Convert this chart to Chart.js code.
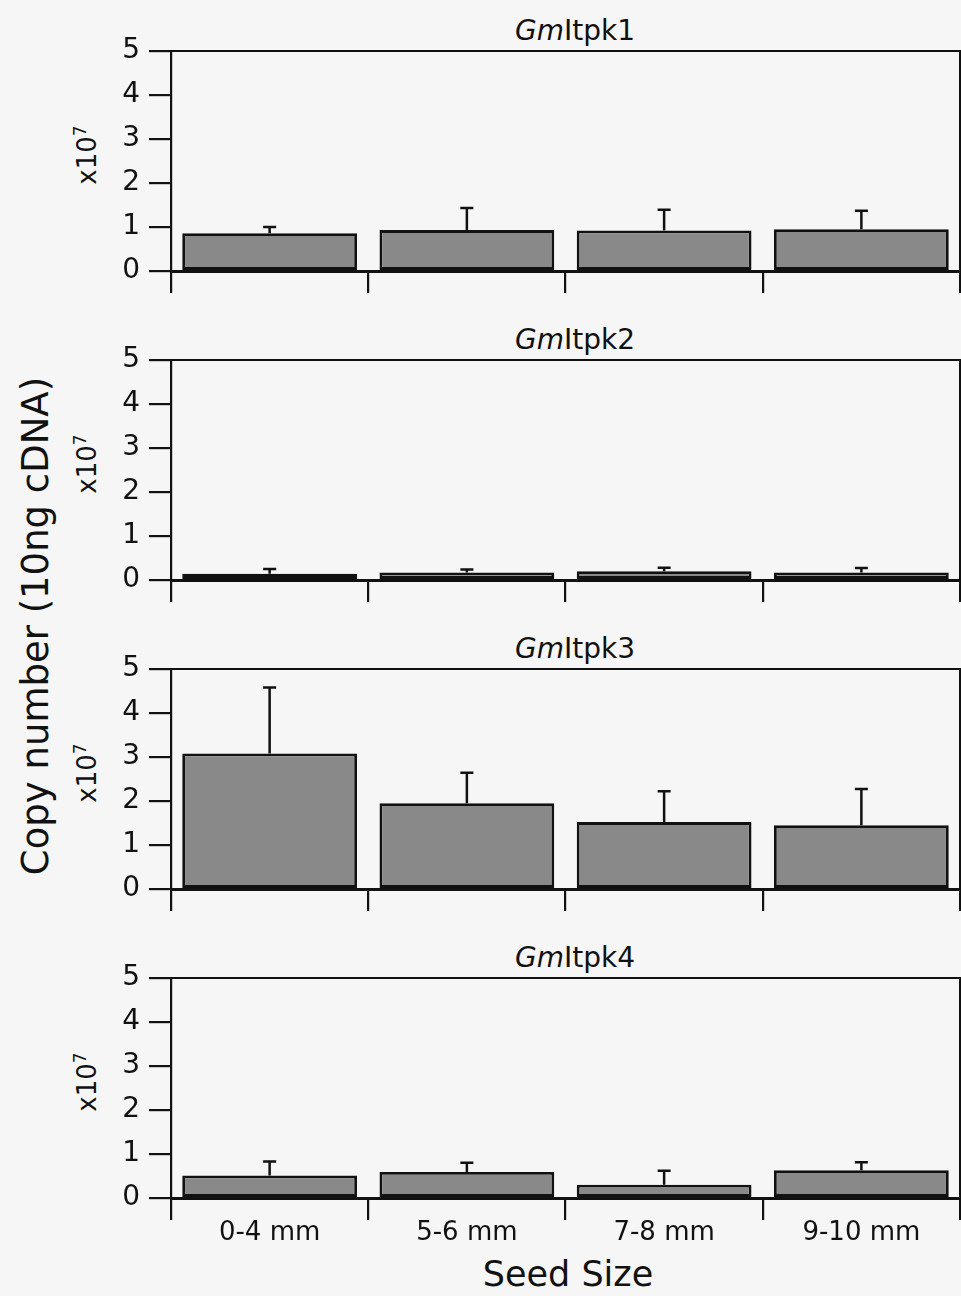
<!DOCTYPE html>
<html>
<head>
<meta charset="utf-8">
<script src="https://cdn.jsdelivr.net/npm/chart.js"></script>
<style>
  html, body { margin: 0; padding: 0; background: #f6f6f6; }
  #page { position: relative; width: 961px; height: 1296px; background: #f6f6f6; overflow: hidden;
          font-family: "DejaVu Sans", sans-serif; color: #111; }
  canvas { position: absolute; left: 0; }
  .title { position: absolute; width: 300px; text-align: center; font-size: 28px; line-height: 1; white-space: nowrap; }
  .unit { position: absolute; width: 120px; text-align: center; font-size: 26px; line-height: 1;
          transform: translate(-50%, -50%) rotate(-90deg); white-space: nowrap; }
  .unit sup { font-size: 17px; }
  #ylabel { position: absolute; left: 35px; top: 626px; font-size: 37px; line-height: 1; white-space: nowrap;
            transform: translate(-50%, -50%) rotate(-90deg); }
  #xlabel { position: absolute; left: 418px; top: 1257px; width: 300px; text-align: center; font-size: 35px; line-height: 1; }
</style>
</head>
<body>
<div id="page">
  <div id="ylabel">Copy number (10ng cDNA)</div>
  <div id="xlabel">Seed Size</div>
</div>
<script>
// seed size categories
const sizeLabels = ['0-4 mm', '5-6 mm', '7-8 mm', '9-10 mm'];
const yTicks = [0, 1, 2, 3, 4, 5];

// mean copy number (x10^7) and upper error (SD) per gene
const itpk1Mean = [0.86, 0.93, 0.92, 0.95];
const itpk1Err  = [0.14, 0.50, 0.47, 0.42];
const itpk2Mean = [0.14, 0.17, 0.20, 0.17];
const itpk2Err  = [0.11, 0.07, 0.08, 0.10];
const itpk3Mean = [3.08, 1.95, 1.52, 1.45];
const itpk3Err  = [1.50, 0.69, 0.70, 0.82];
const itpk4Mean = [0.51, 0.59, 0.30, 0.63];
const itpk4Err  = [0.32, 0.21, 0.32, 0.18];

const geneNames = ['1', '2', '3', '4'];
const means = [itpk1Mean, itpk2Mean, itpk3Mean, itpk4Mean];
const errs = [itpk1Err, itpk2Err, itpk3Err, itpk4Err];

// pixel position of the "5" line for each panel
const panelTops = [51, 360, 669, 978];
const PLOT_H = 220;
const PAD_TOP = 20;
const INK = '#111';

// error bars + top/right frame
const errorBars = {
    id: 'errorBars',
    afterDatasetsDraw(chart) {
        const { ctx, chartArea: a } = chart;
        const y = chart.scales.y;
        const ds = chart.data.datasets[0];
        const meta = chart.getDatasetMeta(0);
        ctx.save();
        ctx.strokeStyle = INK;
        ctx.lineWidth = 2.5;
        meta.data.forEach((bar, i) => {
            const top = y.getPixelForValue(ds.data[i] + ds.errors[i]);
            ctx.beginPath();
            ctx.moveTo(bar.x, bar.y);
            ctx.lineTo(bar.x, top);
            ctx.moveTo(bar.x - 6.5, top);
            ctx.lineTo(bar.x + 6.5, top);
            ctx.stroke();
        });
        ctx.lineWidth = 2;
        ctx.beginPath();
        ctx.moveTo(a.left, a.top);
        ctx.lineTo(a.right, a.top);
        ctx.lineTo(a.right, a.bottom);
        ctx.stroke();
        ctx.restore();
    }
};

function makeChart(canvas, p, xh, padTop) {
    const last = p === panelTops.length - 1;
    return new Chart(canvas, {
        type: 'bar',
        data: {
            labels: sizeLabels,
            datasets: [{
                data: means[p],
                errors: errs[p],
                backgroundColor: '#898989',
                borderColor: INK,
                borderWidth: 2.8,
                borderSkipped: false,
                categoryPercentage: 0.886,
                barPercentage: 1
            }]
        },
        options: {
            responsive: false,
            maintainAspectRatio: false,
            animation: false,
            devicePixelRatio: 1,
            layout: { padding: { top: padTop, right: 1, left: 0, bottom: 0 } },
            plugins: { legend: { display: false }, tooltip: { enabled: false } },
            scales: {
                x: {
                    type: 'category',
                    offset: true,
                    afterFit: (s) => { s.height = xh; },
                    grid: { offset: true, drawOnChartArea: false, drawTicks: true, tickLength: 22, lineWidth: 2.2, color: INK },
                    border: { display: true, width: 3, color: INK },
                    ticks: {
                        display: last,
                        color: INK,
                        padding: 0,
                        font: { family: 'DejaVu Sans', size: 26, lineHeight: 1 }
                    }
                },
                y: {
                    min: yTicks[0],
                    max: yTicks[yTicks.length - 1],
                    afterFit: (s) => { s.width = 171; },
                    grid: { drawOnChartArea: false, drawTicks: true, tickLength: 22, lineWidth: 2.2, color: INK },
                    border: { display: true, width: 2.2, color: INK },
                    ticks: {
                        stepSize: 1,
                        color: INK,
                        padding: 9,
                        font: { family: 'DejaVu Sans', size: 28, lineHeight: 1 }
                    }
                }
            }
        },
        plugins: [errorBars]
    });
}

const page = document.getElementById('page');

panelTops.forEach((y5, p) => {
    const last = p === panelTops.length - 1;
    const xh = last ? 60 : 24;

    // panel title
    const t = document.createElement('div');
    t.className = 'title';
    t.style.left = (575 - 150) + 'px';
    t.style.top = (y5 - 34) + 'px';
    t.innerHTML = '<i>Gm</i>Itpk' + geneNames[p];
    page.appendChild(t);

    // x10^7 unit label
    const u = document.createElement('div');
    u.className = 'unit';
    u.style.left = '86px';
    u.style.top = (y5 + PLOT_H / 2 - 6) + 'px';
    u.innerHTML = 'x10<sup>7</sup>';
    page.appendChild(u);

    const canvas = document.createElement('canvas');
    canvas.width = 961;
    canvas.height = PAD_TOP + PLOT_H + xh;
    page.appendChild(canvas);

    // build once, then correct canvas size/offset so the plot area lands on y5..y5+PLOT_H
    let chart = makeChart(canvas, p, xh, PAD_TOP);
    const a = chart.chartArea;
    const dh = PLOT_H - (a.bottom - a.top);
    if (Math.abs(dh) > 0.5) {
        chart.destroy();
        canvas.width = 961;
        canvas.height = PAD_TOP + PLOT_H + xh + Math.round(dh);
        chart = makeChart(canvas, p, xh, PAD_TOP);
    }
    canvas.style.top = (y5 - chart.chartArea.top) + 'px';
});
</script>
</body>
</html>
